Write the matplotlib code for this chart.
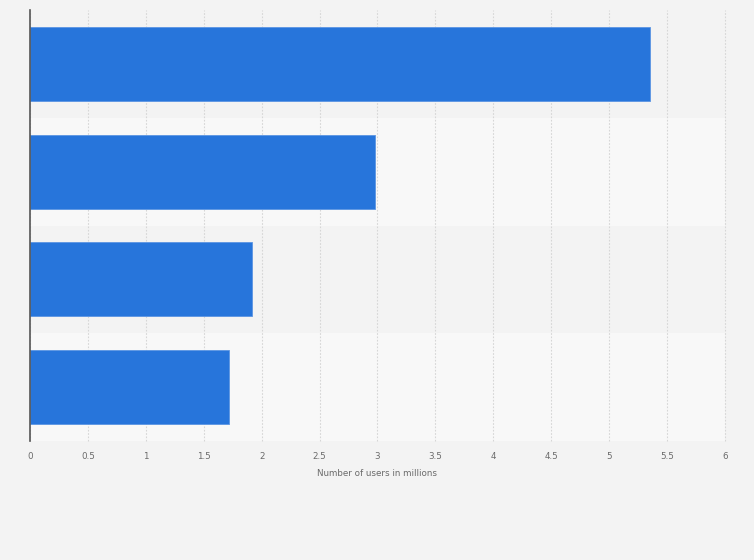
import matplotlib
matplotlib.use("Agg")
import matplotlib.pyplot as plt
import numpy as np

categories = ["A", "B", "C", "D"]
values = [5.35, 2.98, 1.92, 1.72]
xticks = [0, 0.5, 1, 1.5, 2, 2.5, 3, 3.5, 4, 4.5, 5, 5.5, 6]
xtick_labels = ["0", "0.5", "1", "1.5", "2", "2.5", "3", "3.5", "4", "4.5", "5", "5.5", "6"]
xlabel = "Number of users in millions"

fig = plt.figure(figsize=(7.54, 5.60), dpi=100, facecolor="#f3f3f3")
ax = fig.add_axes([30/754, 119/560, 695/754, 431/560])
ax.set_facecolor("#f3f3f3")

n = len(categories)
y = np.arange(n)
for i in range(n):
    if i % 2 == 1:
        ax.axhspan(i - 0.5, i + 0.5, color="#f8f8f8", zorder=0, lw=0)

ax.barh(y, values, height=0.685, color="#2775db", edgecolor="#5b95e3", linewidth=0.6, zorder=3)
ax.set_ylim(n - 0.5, -0.5)
ax.set_xlim(0, 6)
ax.set_yticks(y)
ax.set_yticklabels([""] * n)
ax.tick_params(axis="y", length=0)
ax.set_xticks(xticks)
ax.set_xticklabels(xtick_labels, fontsize=6.3, color="#6a6a6a")
ax.tick_params(axis="x", length=0, pad=8)
ax.grid(axis="x", color="#d6d6d6", linestyle=(0, (1.5, 1.5)), linewidth=0.8, zorder=1)
for gl in ax.get_xgridlines():
    gl.set_clip_on(False)
ax.set_axisbelow(True)
for s in ["top", "right", "bottom"]:
    ax.spines[s].set_visible(False)
ax.spines["left"].set_color("#555555")
ax.spines["left"].set_linewidth(1.2)
ax.spines["left"].set_zorder(4)
ax.set_xlabel(xlabel, fontsize=6.3, color="#6a6a6a", labelpad=6)

fig.savefig("out.png", dpi=100, facecolor=fig.get_facecolor())
